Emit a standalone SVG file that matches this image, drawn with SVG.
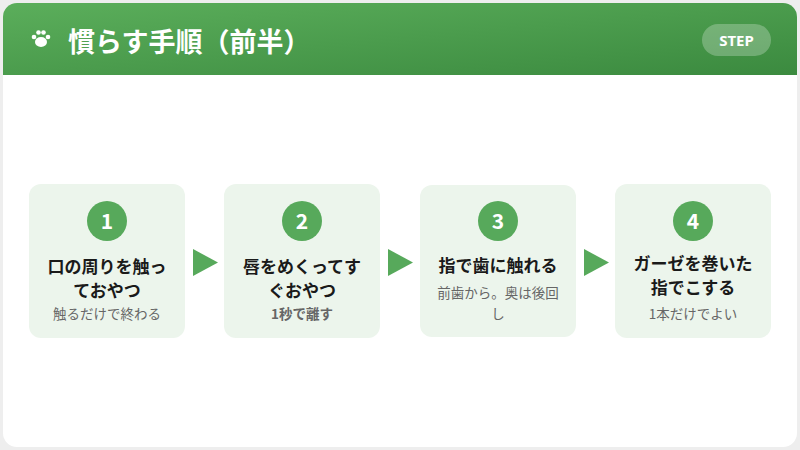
<svg xmlns="http://www.w3.org/2000/svg" width="800" height="450" viewBox="0 0 800 450">
<defs>
<linearGradient id="hg" x1="0" y1="0" x2="1" y2="1"><stop offset="0" stop-color="#5bae5b"/><stop offset="1" stop-color="#3b8a3f"/></linearGradient>
<clipPath id="cp"><rect x="3" y="3" width="794" height="444" rx="14"/></clipPath>
<style>
.card{fill:#ecf5ec}
.num{fill:#57a95b}
.nt{font-family:"Noto Sans CJK JP","Noto Sans",sans-serif;font-weight:700;font-size:21px;fill:#fff;text-anchor:middle}
.t{font-family:"Noto Sans CJK JP",sans-serif;font-weight:700;font-size:17px;fill:#1a1a1a;text-anchor:middle}
.s{font-family:"Noto Sans CJK JP",sans-serif;font-size:13.5px;fill:#666;text-anchor:middle}
.sb{font-weight:700}
.ar{fill:#57a95b}
</style>
</defs>
<rect width="800" height="450" fill="#eeeeee"/>
<g clip-path="url(#cp)">
<rect x="3" y="3" width="794" height="444" fill="#fff"/>
<rect x="3" y="3" width="794" height="72" fill="url(#hg)"/>
</g>
<g id="header">
<g fill="#fff"><ellipse cx="41" cy="42" rx="6" ry="5"/><circle cx="34" cy="37" r="2.3"/><circle cx="38.5" cy="32.5" r="2.3"/><circle cx="43.5" cy="32.5" r="2.3"/><circle cx="48" cy="37" r="2.3"/></g>
<text x="68" y="52" font-family="Noto Sans CJK JP,sans-serif" font-weight="700" font-size="27" fill="#fff">慣らす手順（前半）</text>
<rect x="702" y="24" width="69" height="32" rx="16" fill="#fff" fill-opacity="0.25"/>
<text x="736.5" y="45.5" font-family="Noto Sans,sans-serif" font-weight="700" font-size="15" fill="#fff" text-anchor="middle">STEP</text>
</g>
<g id="connectors">
<polygon class="ar" points="193,249 218,262.5 193,276"/>
<polygon class="ar" points="388,249 413,262.5 388,276"/>
<polygon class="ar" points="584,249 609,262.5 584,276"/>
</g>
<g id="step1"><rect class="card" x="29" y="184" width="156" height="154" rx="12"/><circle class="num" cx="107" cy="221" r="20"/><text class="nt" x="107" y="228.5">1</text><text class="t" x="107" y="273">口の周りを触っ</text><text class="t" x="107" y="297">ておやつ</text><text class="s" x="107" y="319">触るだけで終わる</text></g>
<g id="step2"><rect class="card" x="224" y="184" width="156" height="154" rx="12"/><circle class="num" cx="302" cy="221" r="20"/><text class="nt" x="302" y="228.5">2</text><text class="t" x="302" y="273">唇をめくってす</text><text class="t" x="302" y="297">ぐおやつ</text><text class="s sb" x="302" y="319">1秒で離す</text></g>
<g id="step3"><rect class="card" x="420" y="185" width="156" height="152" rx="12"/><circle class="num" cx="498" cy="221" r="20"/><text class="nt" x="498" y="228.5">3</text><text class="t" x="498" y="272">指で歯に触れる</text><text class="s" x="498" y="298">前歯から。奥は後回</text><text class="s" x="498" y="319">し</text></g>
<g id="step4"><rect class="card" x="615" y="184" width="156" height="154" rx="12"/><circle class="num" cx="693" cy="221" r="20"/><text class="nt" x="693" y="228.5">4</text><text class="t" x="693" y="270">ガーゼを巻いた</text><text class="t" x="693" y="294">指でこする</text><text class="s" x="693" y="319">1本だけでよい</text></g>
</svg>
